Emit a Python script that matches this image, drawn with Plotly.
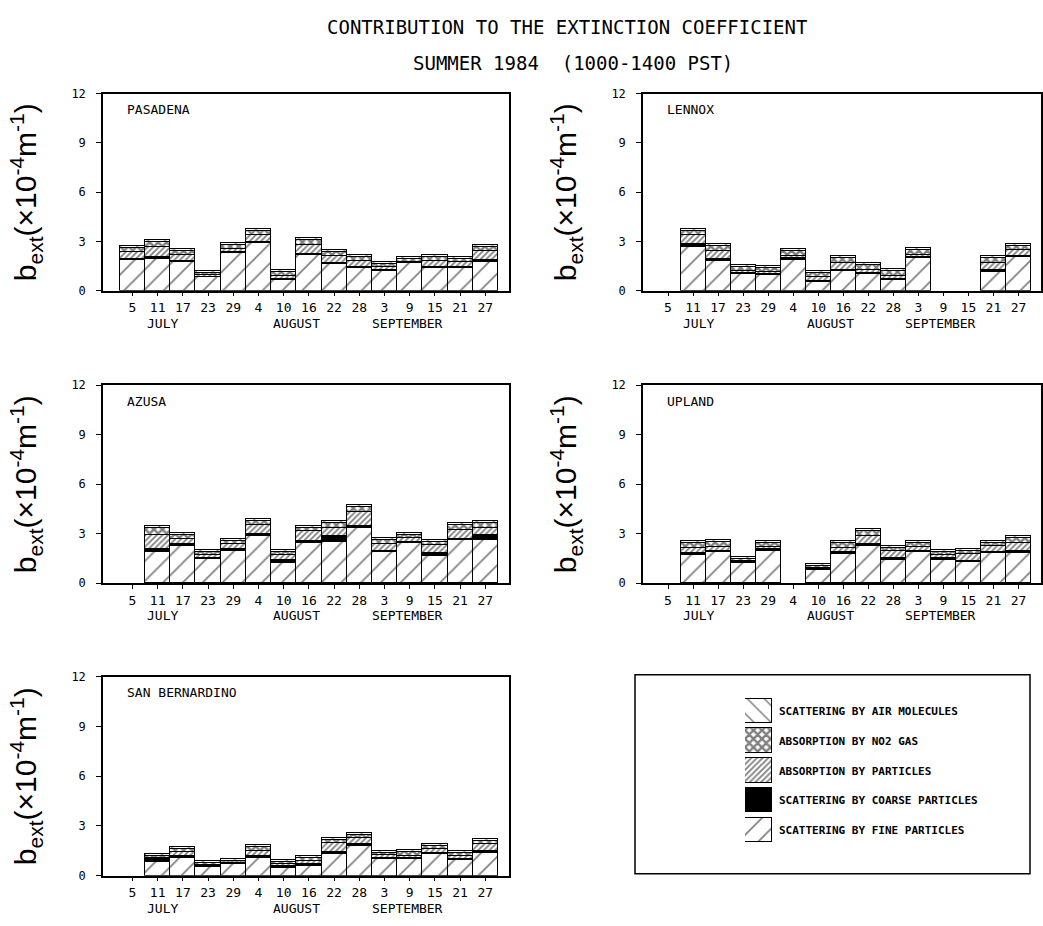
import plotly.graph_objects as go

W, H = 1043, 926

# ---------------- data ----------------
dates = ["5", "11", "17", "23", "29", "4", "10", "16", "22", "28", "3", "9", "15", "21", "27"]
months = ["JULY", "AUGUST", "SEPTEMBER"]
month_pos = [1.2, 6.5, 10.9]
y_ticks = [0, 3, 6, 9, 12]

comp_names = ["SCATTERING BY FINE PARTICLES", "SCATTERING BY COARSE PARTICLES",
              "ABSORPTION BY PARTICLES", "ABSORPTION BY NO2 GAS",
              "SCATTERING BY AIR MOLECULES"]

N = None
# PASADENA (all 15 dates)
pas_fine   = [1.88, 1.94, 1.78, 0.83, 2.33, 2.92, 0.69, 2.17, 1.62, 1.42, 1.23, 1.68, 1.38, 1.38, 1.78]
pas_coarse = [0.08, 0.10, 0.06, 0.04, 0.05, 0.08, 0.05, 0.08, 0.07, 0.07, 0.05, 0.05, 0.07, 0.06, 0.08]
pas_abs    = [0.40, 0.62, 0.37, 0.10, 0.17, 0.42, 0.19, 0.58, 0.45, 0.35, 0.18, 0.03, 0.35, 0.32, 0.58]
pas_no2    = [0.25, 0.30, 0.20, 0.10, 0.25, 0.25, 0.20, 0.25, 0.25, 0.25, 0.20, 0.20, 0.25, 0.20, 0.25]
pas_air    = [0.12, 0.12, 0.12, 0.12, 0.12, 0.12, 0.12, 0.12, 0.12, 0.12, 0.12, 0.12, 0.12, 0.12, 0.12]

# LENNOX
len_fine   = [N, 2.66, 1.84, 1.06, 1.00, 1.90, 0.54, 1.20, 1.06, 0.66, 2.00, N, N, 1.16, 2.06]
len_coarse = [N, 0.18, 0.10, 0.06, 0.06, 0.08, 0.08, 0.08, 0.06, 0.06, 0.06, N, N, 0.10, 0.08]
len_abs    = [N, 0.54, 0.48, 0.12, 0.12, 0.16, 0.26, 0.44, 0.16, 0.22, 0.14, N, N, 0.46, 0.37]
len_no2    = [N, 0.30, 0.30, 0.20, 0.20, 0.30, 0.20, 0.30, 0.30, 0.30, 0.30, N, N, 0.30, 0.25]
len_air    = [N, 0.12, 0.12, 0.12, 0.12, 0.12, 0.12, 0.12, 0.12, 0.12, 0.12, N, N, 0.12, 0.12]

# AZUSA
azu_fine   = [N, 1.86, 2.26, 1.44, 1.96, 2.86, 1.20, 2.40, 2.46, 3.36, 1.86, 2.40, 1.66, 2.60, 2.60]
azu_coarse = [N, 0.20, 0.10, 0.08, 0.08, 0.12, 0.20, 0.12, 0.38, 0.10, 0.10, 0.06, 0.14, 0.06, 0.28]
azu_abs    = [N, 0.86, 0.32, 0.16, 0.30, 0.56, 0.28, 0.62, 0.50, 0.82, 0.42, 0.26, 0.48, 0.58, 0.46]
azu_no2    = [N, 0.40, 0.20, 0.20, 0.20, 0.20, 0.20, 0.20, 0.30, 0.30, 0.20, 0.20, 0.20, 0.30, 0.30]
azu_air    = [N, 0.12, 0.12, 0.12, 0.12, 0.12, 0.12, 0.12, 0.12, 0.12, 0.12, 0.12, 0.12, 0.12, 0.12]

# UPLAND
upl_fine   = [N, 1.72, 1.86, 1.22, 1.96, N, 0.76, 1.76, 2.22, 1.40, 1.86, 1.42, 1.26, 1.82, 1.82]
upl_coarse = [N, 0.12, 0.10, 0.06, 0.08, N, 0.08, 0.10, 0.12, 0.10, 0.08, 0.08, 0.08, 0.08, 0.10]
upl_abs    = [N, 0.30, 0.22, 0.06, 0.16, N, 0.06, 0.28, 0.50, 0.44, 0.26, 0.20, 0.40, 0.34, 0.48]
upl_no2    = [N, 0.30, 0.30, 0.10, 0.20, N, 0.10, 0.30, 0.30, 0.20, 0.20, 0.20, 0.20, 0.20, 0.30]
upl_air    = [N, 0.12, 0.12, 0.12, 0.12, N, 0.12, 0.12, 0.12, 0.12, 0.12, 0.12, 0.12, 0.12, 0.12]

# SAN BERNARDINO
sbd_fine   = [N, 0.85, 1.10, 0.55, 0.70, 1.10, 0.50, 0.60, 1.30, 1.80, 1.00, 1.00, 1.30, 0.95, 1.40]
sbd_coarse = [N, 0.15, 0.10, 0.08, 0.06, 0.10, 0.10, 0.10, 0.12, 0.10, 0.08, 0.08, 0.10, 0.08, 0.10]
sbd_abs    = [N, 0.08, 0.23, 0.05, 0.02, 0.33, 0.13, 0.18, 0.56, 0.38, 0.20, 0.15, 0.23, 0.15, 0.43]
sbd_no2    = [N, 0.10, 0.20, 0.10, 0.10, 0.20, 0.10, 0.20, 0.20, 0.20, 0.10, 0.20, 0.20, 0.20, 0.20]
sbd_air    = [N, 0.12, 0.12, 0.12, 0.12, 0.12, 0.12, 0.12, 0.12, 0.12, 0.12, 0.12, 0.12, 0.12, 0.12]

stations = [
    ("PASADENA", [pas_fine, pas_coarse, pas_abs, pas_no2, pas_air]),
    ("LENNOX", [len_fine, len_coarse, len_abs, len_no2, len_air]),
    ("AZUSA", [azu_fine, azu_coarse, azu_abs, azu_no2, azu_air]),
    ("UPLAND", [upl_fine, upl_coarse, upl_abs, upl_no2, upl_air]),
    ("SAN BERNARDINO", [sbd_fine, sbd_coarse, sbd_abs, sbd_no2, sbd_air]),
]

# ---------------- styles ----------------
MONO = "DejaVu Sans Mono"
patterns = [
    dict(color="white", pattern=dict(shape="/", fgcolor="black", bgcolor="white", size=14, solidity=0.12)),
    dict(color="black"),
    dict(color="white", pattern=dict(shape="/", fgcolor="black", bgcolor="white", size=4, solidity=0.45)),
    dict(color="white", pattern=dict(shape="x", fgcolor="black", bgcolor="white", size=6, solidity=0.65)),
    dict(color="white", pattern=dict(shape="\\", fgcolor="black", bgcolor="white", size=12, solidity=0.12)),
]

left_x, right_x = (103, 509), (643, 1041)
rows = [(88, 288), (384, 585), (680, 882)]
geom = [
    (left_x, rows[0], [-1.17, 14.94]),
    (right_x, rows[0], [-1.0, 14.9]),
    (left_x, rows[1], [-1.17, 14.94]),
    (right_x, rows[1], [-1.0, 14.9]),
    (left_x, rows[2], [-1.17, 14.94]),
]

def px(v):
    return v / W

def py(v):
    return 1 - v / H

fig = go.Figure()
layout = dict(
    width=W, height=H, margin=dict(l=0, r=0, t=0, b=0),
    paper_bgcolor="white", plot_bgcolor="white",
    barmode="stack", bargap=0, showlegend=False,
    font=dict(family=MONO, color="black"),
)
annotations = []

for i, (name, comps) in enumerate(stations):
    k = "" if i == 0 else str(i + 1)
    (x0, x1), (y0, y1), xr = geom[i]
    for c, vals in enumerate(comps):
        fig.add_trace(go.Bar(
            x=dates, y=vals, width=1.0, name=comp_names[c],
            marker=dict(line=dict(color="black", width=1), **patterns[c]),
            xaxis="x" + k, yaxis="y" + k, hoverinfo="skip",
        ))
    layout["xaxis" + k] = dict(
        domain=[px(x0), px(x1)], anchor="y" + k, type="category",
        categoryorder="array", categoryarray=dates, range=xr,
        showline=True, mirror=True, linecolor="black", linewidth=1.5,
        ticks="outside", ticklen=4, tickcolor="black", showgrid=False,
        tickfont=dict(family=MONO, size=13, color="black"), zeroline=False,
    )
    layout["yaxis" + k] = dict(
        domain=[py(y1), py(y0)], anchor="x" + k, range=[0, 12],
        tickvals=y_ticks, ticktext=[str(t) for t in y_ticks],
        showline=True, mirror=True, linecolor="black", linewidth=1.5,
        ticks="outside", ticklen=5, tickcolor="black", showgrid=False,
        ticklabelstandoff=8,
        tickfont=dict(family=MONO, size=12, color="black"), zeroline=False,
    )
    annotations.append(dict(
        text=name, xref="x" + k + " domain", yref="y" + k + " domain",
        x=0.055, y=0.92, xanchor="left", yanchor="middle", showarrow=False,
        font=dict(family=MONO, size=13, color="black"),
    ))
    for m, mp in zip(months, month_pos):
        annotations.append(dict(
            text=m, xref="x" + k, yref="paper", x=mp, y=py(y1 + 33),
            xanchor="center", yanchor="middle", showarrow=False,
            font=dict(family=MONO, size=13, color="black"),
        ))
    annotations.append(dict(
        text="b<sub>ext</sub>(×10<sup>-4</sup>m<sup>-1</sup>)",
        xref="paper", yref="paper", x=px(x0 - 77), y=py((y0 + y1) / 2),
        xanchor="center", yanchor="middle", textangle=-90, showarrow=False,
        font=dict(family="Liberation Sans", size=30, color="black"),
    ))

annotations.append(dict(text="CONTRIBUTION TO THE EXTINCTION COEFFICIENT", xref="paper", yref="paper",
                        x=px(567), y=py(20), showarrow=False, xanchor="center", yanchor="middle",
                        font=dict(family=MONO, size=19, color="black")))
annotations.append(dict(text="SUMMER 1984  (1000-1400 PST)", xref="paper", yref="paper",
                        x=px(573), y=py(57), showarrow=False, xanchor="center", yanchor="middle",
                        font=dict(family=MONO, size=19, color="black")))

legend_order = comp_names  # bottom to top
for c, nm in enumerate(comp_names):
    fig.add_trace(go.Bar(
        x=[1], y=[nm], orientation="h", width=0.82,
        marker=dict(line=dict(color="black", width=1), **patterns[c]),
        xaxis="x6", yaxis="y6", hoverinfo="skip",
    ))
layout["xaxis6"] = dict(domain=[px(745), px(772)], anchor="y6", range=[0, 1], visible=False)
layout["yaxis6"] = dict(domain=[py(851), py(700)], anchor="x6", type="category",
                        categoryorder="array", categoryarray=legend_order, side="right",
                        showline=False, ticks="", showgrid=False, ticklabelstandoff=6,
                        tickfont=dict(family=MONO, size=11, color="black", weight="bold"))

layout["shapes"] = [dict(type="rect", xref="paper", yref="paper",
                         x0=px(635), x1=px(1030), y0=py(880), y1=py(678),
                         line=dict(color="black", width=1.5))]
layout["annotations"] = annotations
fig.update_layout(**layout)

fig.write_html("out.html")
